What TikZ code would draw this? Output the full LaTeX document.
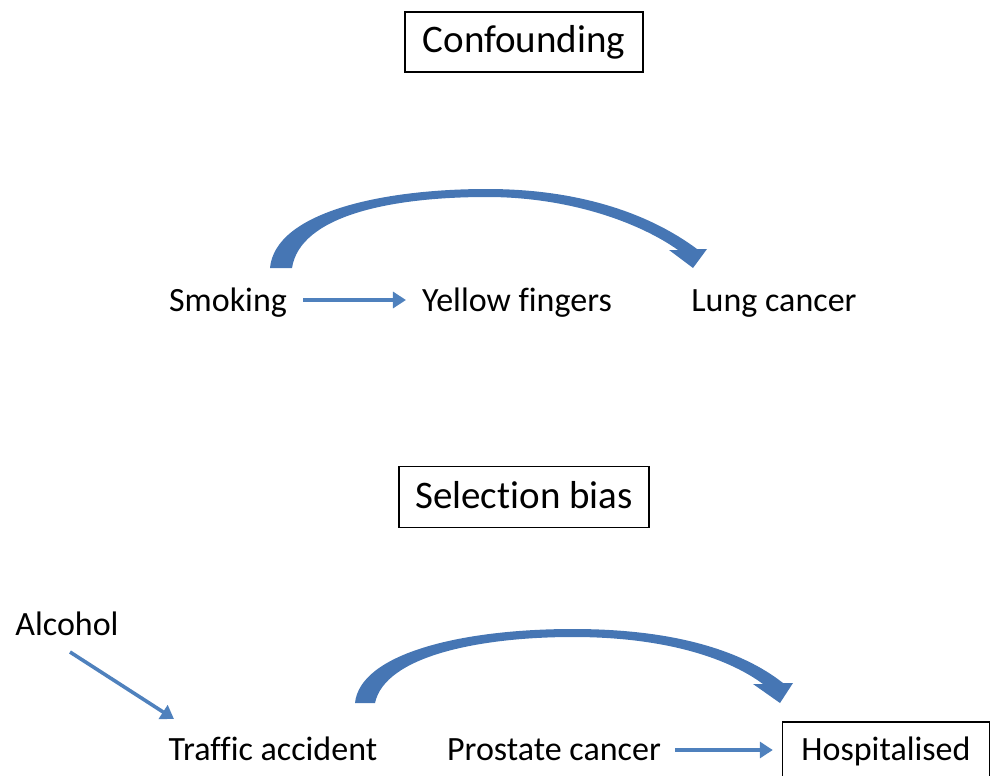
\documentclass[tikz,border=0pt]{standalone}
\usepackage{fontspec}
\setmainfont[Ligatures=NoCommon]{Carlito}
\usetikzlibrary{arrows.meta}
\definecolor{thinblue}{HTML}{4F81BD}
\definecolor{bigblue}{HTML}{4676B4}
\begin{document}
\begin{tikzpicture}[x=1pt,y=-1pt,
  lbl/.style={inner sep=0pt,font=\fontsize{34}{40}\selectfont,text height=7.5pt,text depth=2.5pt},
  titlebox/.style={draw=black,line width=1.4pt,inner sep=0pt,font=\fontsize{39}{46}\selectfont,text height=39pt,text depth=17pt},
  thinarrow/.style={draw=thinblue,line width=3.6pt,-{Triangle[length=13pt,width=16pt]}},
  bigarrow/.style={fill=bigblue,draw=none}]
\useasboundingbox (0,0) rectangle (996,776);
% Confounding
\node[titlebox,minimum width=238pt,minimum height=60pt] (conf) at (524,42) {Confounding};
\node[lbl] (smoking) at (228,309) {Smoking};
\node[lbl] (yellow) at (517,309) {Yellow fingers};
\node[lbl] (lung) at (774,309) {Lung cancer};
\draw[thinarrow,shorten <=16pt,shorten >=16pt] (smoking.east |- 0,300) -- (yellow.west |- 0,300);
\path[bigarrow] (270,268) .. controls (275,213) and (380,189) .. (487,189)
  .. controls (580,189) and (650,214) .. (697,249) -- (707,249) -- (693,268) -- (669,250) -- (678,250)
  .. controls (640,223) and (570,197) .. (487,197)
  .. controls (390,197) and (300,216) .. (292,268) -- cycle;
% Selection bias
\node[titlebox,minimum width=250pt,minimum height=61pt] (sel) at (524,497) {Selection bias};
\node[lbl] (alcohol) at (67,633) {Alcohol};
\node[lbl] (traffic) at (273,758) {Traffic accident};
\node[lbl] (prostate) at (554,758) {Prostate cancer};
\node[titlebox,font=\fontsize{34}{40}\selectfont,text height=36pt,text depth=20pt,minimum width=207pt,minimum height=60pt] (hosp) at (886,752) {Hospitalised};
\coordinate (a1) at (70,652);
\coordinate (a2) at (174,719);
\draw[thinarrow] (a1) -- (a2);
\draw[thinarrow,shorten <=14pt,shorten >=9pt] (prostate.east |- 0,750) -- (hosp.west |- 0,750);
\path[bigarrow] (355,703) .. controls (360,654) and (460,629) .. (573,629)
  .. controls (670,629) and (740,649) .. (783,683) -- (793,683) -- (780,703) -- (753,684) -- (763,684)
  .. controls (725,656) and (660,637) .. (573,637)
  .. controls (480,637) and (385,656) .. (375,703) -- cycle;
\end{tikzpicture}
\end{document}
